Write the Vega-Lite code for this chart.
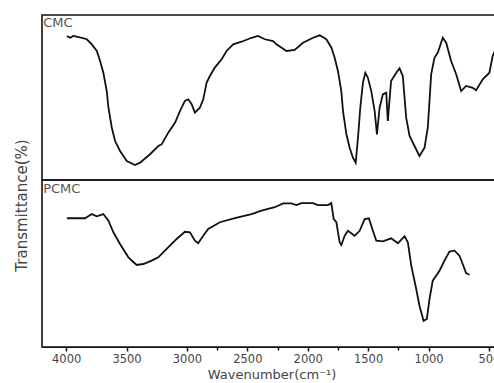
{
  "$schema": "https://vega.github.io/schema/vega-lite/v6.json",
  "background": "white",
  "padding": {"left": 13, "top": 14, "right": 0, "bottom": 0},
  "spacing": 0,
  "bounds": "flush",
  "config": {
    "font": "DejaVu Sans",
    "view": {"stroke": "#111", "strokeWidth": 1.6},
    "axis": {
      "labelFont": "DejaVu Sans",
      "labelFontSize": 11.5,
      "labelColor": "#444",
      "titleFont": "DejaVu Sans",
      "titleFontSize": 13,
      "titleFontWeight": "normal",
      "titleColor": "#444",
      "domainColor": "#111",
      "tickColor": "#111",
      "grid": false
    }
  },
  "datasets": {
    "spectra": [
      {"sample": "CMC", "wavenumber": 3994, "transmittance": 87.3},
      {"sample": "CMC", "wavenumber": 3967, "transmittance": 86.2},
      {"sample": "CMC", "wavenumber": 3940, "transmittance": 87.3},
      {"sample": "CMC", "wavenumber": 3870, "transmittance": 86.2},
      {"sample": "CMC", "wavenumber": 3829, "transmittance": 85.3},
      {"sample": "CMC", "wavenumber": 3788, "transmittance": 82.2},
      {"sample": "CMC", "wavenumber": 3746, "transmittance": 78.2},
      {"sample": "CMC", "wavenumber": 3719, "transmittance": 72.1},
      {"sample": "CMC", "wavenumber": 3692, "transmittance": 65.0},
      {"sample": "CMC", "wavenumber": 3664, "transmittance": 53.9},
      {"sample": "CMC", "wavenumber": 3650, "transmittance": 43.8},
      {"sample": "CMC", "wavenumber": 3622, "transmittance": 31.7},
      {"sample": "CMC", "wavenumber": 3595, "transmittance": 23.6},
      {"sample": "CMC", "wavenumber": 3554, "transmittance": 17.6},
      {"sample": "CMC", "wavenumber": 3498, "transmittance": 11.5},
      {"sample": "CMC", "wavenumber": 3430, "transmittance": 9.1},
      {"sample": "CMC", "wavenumber": 3388, "transmittance": 10.5},
      {"sample": "CMC", "wavenumber": 3306, "transmittance": 15.6},
      {"sample": "CMC", "wavenumber": 3237, "transmittance": 20.6},
      {"sample": "CMC", "wavenumber": 3209, "transmittance": 21.6},
      {"sample": "CMC", "wavenumber": 3155, "transmittance": 28.7},
      {"sample": "CMC", "wavenumber": 3099, "transmittance": 34.7},
      {"sample": "CMC", "wavenumber": 3058, "transmittance": 41.8},
      {"sample": "CMC", "wavenumber": 3017, "transmittance": 47.9},
      {"sample": "CMC", "wavenumber": 2989, "transmittance": 48.9},
      {"sample": "CMC", "wavenumber": 2961, "transmittance": 45.9},
      {"sample": "CMC", "wavenumber": 2934, "transmittance": 40.8},
      {"sample": "CMC", "wavenumber": 2893, "transmittance": 43.8},
      {"sample": "CMC", "wavenumber": 2865, "transmittance": 48.9},
      {"sample": "CMC", "wavenumber": 2837, "transmittance": 59.0},
      {"sample": "CMC", "wavenumber": 2810, "transmittance": 63.0},
      {"sample": "CMC", "wavenumber": 2769, "transmittance": 68.1},
      {"sample": "CMC", "wavenumber": 2713, "transmittance": 73.2},
      {"sample": "CMC", "wavenumber": 2672, "transmittance": 78.2},
      {"sample": "CMC", "wavenumber": 2617, "transmittance": 82.2},
      {"sample": "CMC", "wavenumber": 2548, "transmittance": 83.8},
      {"sample": "CMC", "wavenumber": 2465, "transmittance": 86.2},
      {"sample": "CMC", "wavenumber": 2411, "transmittance": 87.3},
      {"sample": "CMC", "wavenumber": 2355, "transmittance": 85.3},
      {"sample": "CMC", "wavenumber": 2287, "transmittance": 84.2},
      {"sample": "CMC", "wavenumber": 2259, "transmittance": 82.2},
      {"sample": "CMC", "wavenumber": 2176, "transmittance": 78.2},
      {"sample": "CMC", "wavenumber": 2108, "transmittance": 78.8},
      {"sample": "CMC", "wavenumber": 2039, "transmittance": 83.2},
      {"sample": "CMC", "wavenumber": 1956, "transmittance": 86.2},
      {"sample": "CMC", "wavenumber": 1901, "transmittance": 87.7},
      {"sample": "CMC", "wavenumber": 1846, "transmittance": 85.3},
      {"sample": "CMC", "wavenumber": 1804, "transmittance": 80.2},
      {"sample": "CMC", "wavenumber": 1777, "transmittance": 74.1},
      {"sample": "CMC", "wavenumber": 1750, "transmittance": 66.1},
      {"sample": "CMC", "wavenumber": 1722, "transmittance": 53.9},
      {"sample": "CMC", "wavenumber": 1708, "transmittance": 41.8},
      {"sample": "CMC", "wavenumber": 1680, "transmittance": 27.7},
      {"sample": "CMC", "wavenumber": 1653, "transmittance": 19.6},
      {"sample": "CMC", "wavenumber": 1626, "transmittance": 13.5},
      {"sample": "CMC", "wavenumber": 1603, "transmittance": 10.5},
      {"sample": "CMC", "wavenumber": 1584, "transmittance": 25.6},
      {"sample": "CMC", "wavenumber": 1565, "transmittance": 43.8},
      {"sample": "CMC", "wavenumber": 1543, "transmittance": 59.0},
      {"sample": "CMC", "wavenumber": 1523, "transmittance": 65.0},
      {"sample": "CMC", "wavenumber": 1502, "transmittance": 62.0},
      {"sample": "CMC", "wavenumber": 1474, "transmittance": 53.9},
      {"sample": "CMC", "wavenumber": 1446, "transmittance": 41.8},
      {"sample": "CMC", "wavenumber": 1427, "transmittance": 27.7},
      {"sample": "CMC", "wavenumber": 1405, "transmittance": 43.8},
      {"sample": "CMC", "wavenumber": 1378, "transmittance": 51.9},
      {"sample": "CMC", "wavenumber": 1350, "transmittance": 52.9},
      {"sample": "CMC", "wavenumber": 1337, "transmittance": 35.8},
      {"sample": "CMC", "wavenumber": 1310, "transmittance": 60.0},
      {"sample": "CMC", "wavenumber": 1267, "transmittance": 65.0},
      {"sample": "CMC", "wavenumber": 1240, "transmittance": 67.7},
      {"sample": "CMC", "wavenumber": 1213, "transmittance": 63.0},
      {"sample": "CMC", "wavenumber": 1185, "transmittance": 37.8},
      {"sample": "CMC", "wavenumber": 1157, "transmittance": 26.7},
      {"sample": "CMC", "wavenumber": 1116, "transmittance": 20.6},
      {"sample": "CMC", "wavenumber": 1075, "transmittance": 14.5},
      {"sample": "CMC", "wavenumber": 1033, "transmittance": 19.6},
      {"sample": "CMC", "wavenumber": 1006, "transmittance": 31.7},
      {"sample": "CMC", "wavenumber": 978, "transmittance": 64.1},
      {"sample": "CMC", "wavenumber": 951, "transmittance": 74.1},
      {"sample": "CMC", "wavenumber": 923, "transmittance": 77.2},
      {"sample": "CMC", "wavenumber": 882, "transmittance": 86.2},
      {"sample": "CMC", "wavenumber": 854, "transmittance": 83.2},
      {"sample": "CMC", "wavenumber": 813, "transmittance": 72.1},
      {"sample": "CMC", "wavenumber": 771, "transmittance": 64.1},
      {"sample": "CMC", "wavenumber": 730, "transmittance": 53.9},
      {"sample": "CMC", "wavenumber": 689, "transmittance": 57.0},
      {"sample": "CMC", "wavenumber": 634, "transmittance": 55.9},
      {"sample": "CMC", "wavenumber": 606, "transmittance": 54.4},
      {"sample": "CMC", "wavenumber": 551, "transmittance": 61.0},
      {"sample": "CMC", "wavenumber": 496, "transmittance": 65.0},
      {"sample": "CMC", "wavenumber": 469, "transmittance": 75.2},
      {"sample": "CMC", "wavenumber": 430, "transmittance": 82.0},
      {"sample": "PCMC", "wavenumber": 3994, "transmittance": 77.1},
      {"sample": "PCMC", "wavenumber": 3843, "transmittance": 77.1},
      {"sample": "PCMC", "wavenumber": 3788, "transmittance": 79.6},
      {"sample": "PCMC", "wavenumber": 3746, "transmittance": 78.3},
      {"sample": "PCMC", "wavenumber": 3692, "transmittance": 79.6},
      {"sample": "PCMC", "wavenumber": 3650, "transmittance": 75.6},
      {"sample": "PCMC", "wavenumber": 3609, "transmittance": 68.7},
      {"sample": "PCMC", "wavenumber": 3554, "transmittance": 61.7},
      {"sample": "PCMC", "wavenumber": 3485, "transmittance": 53.7},
      {"sample": "PCMC", "wavenumber": 3416, "transmittance": 49.1},
      {"sample": "PCMC", "wavenumber": 3361, "transmittance": 49.7},
      {"sample": "PCMC", "wavenumber": 3292, "transmittance": 51.7},
      {"sample": "PCMC", "wavenumber": 3237, "transmittance": 53.7},
      {"sample": "PCMC", "wavenumber": 3168, "transmittance": 58.7},
      {"sample": "PCMC", "wavenumber": 3085, "transmittance": 64.7},
      {"sample": "PCMC", "wavenumber": 3017, "transmittance": 69.0},
      {"sample": "PCMC", "wavenumber": 2975, "transmittance": 68.7},
      {"sample": "PCMC", "wavenumber": 2934, "transmittance": 63.7},
      {"sample": "PCMC", "wavenumber": 2907, "transmittance": 62.1},
      {"sample": "PCMC", "wavenumber": 2865, "transmittance": 66.6},
      {"sample": "PCMC", "wavenumber": 2824, "transmittance": 70.7},
      {"sample": "PCMC", "wavenumber": 2727, "transmittance": 74.7},
      {"sample": "PCMC", "wavenumber": 2603, "transmittance": 77.1},
      {"sample": "PCMC", "wavenumber": 2465, "transmittance": 79.6},
      {"sample": "PCMC", "wavenumber": 2383, "transmittance": 81.6},
      {"sample": "PCMC", "wavenumber": 2273, "transmittance": 83.7},
      {"sample": "PCMC", "wavenumber": 2204, "transmittance": 86.0},
      {"sample": "PCMC", "wavenumber": 2135, "transmittance": 86.0},
      {"sample": "PCMC", "wavenumber": 2094, "transmittance": 85.0},
      {"sample": "PCMC", "wavenumber": 2052, "transmittance": 86.2},
      {"sample": "PCMC", "wavenumber": 1956, "transmittance": 86.2},
      {"sample": "PCMC", "wavenumber": 1915, "transmittance": 85.0},
      {"sample": "PCMC", "wavenumber": 1832, "transmittance": 85.0},
      {"sample": "PCMC", "wavenumber": 1805, "transmittance": 86.2},
      {"sample": "PCMC", "wavenumber": 1785, "transmittance": 76.6},
      {"sample": "PCMC", "wavenumber": 1763, "transmittance": 74.7},
      {"sample": "PCMC", "wavenumber": 1736, "transmittance": 62.7},
      {"sample": "PCMC", "wavenumber": 1722, "transmittance": 61.1},
      {"sample": "PCMC", "wavenumber": 1694, "transmittance": 66.6},
      {"sample": "PCMC", "wavenumber": 1667, "transmittance": 69.6},
      {"sample": "PCMC", "wavenumber": 1612, "transmittance": 66.6},
      {"sample": "PCMC", "wavenumber": 1570, "transmittance": 69.6},
      {"sample": "PCMC", "wavenumber": 1529, "transmittance": 76.6},
      {"sample": "PCMC", "wavenumber": 1494, "transmittance": 77.1},
      {"sample": "PCMC", "wavenumber": 1474, "transmittance": 72.6},
      {"sample": "PCMC", "wavenumber": 1433, "transmittance": 63.7},
      {"sample": "PCMC", "wavenumber": 1378, "transmittance": 63.3},
      {"sample": "PCMC", "wavenumber": 1309, "transmittance": 65.1},
      {"sample": "PCMC", "wavenumber": 1254, "transmittance": 62.1},
      {"sample": "PCMC", "wavenumber": 1199, "transmittance": 66.3},
      {"sample": "PCMC", "wavenumber": 1171, "transmittance": 62.7},
      {"sample": "PCMC", "wavenumber": 1143, "transmittance": 48.7},
      {"sample": "PCMC", "wavenumber": 1102, "transmittance": 34.7},
      {"sample": "PCMC", "wavenumber": 1075, "transmittance": 24.7},
      {"sample": "PCMC", "wavenumber": 1041, "transmittance": 15.7},
      {"sample": "PCMC", "wavenumber": 1014, "transmittance": 16.8},
      {"sample": "PCMC", "wavenumber": 992, "transmittance": 28.7},
      {"sample": "PCMC", "wavenumber": 965, "transmittance": 39.7},
      {"sample": "PCMC", "wavenumber": 909, "transmittance": 45.7},
      {"sample": "PCMC", "wavenumber": 868, "transmittance": 51.7},
      {"sample": "PCMC", "wavenumber": 827, "transmittance": 57.1},
      {"sample": "PCMC", "wavenumber": 785, "transmittance": 57.7},
      {"sample": "PCMC", "wavenumber": 744, "transmittance": 54.7},
      {"sample": "PCMC", "wavenumber": 717, "transmittance": 49.7},
      {"sample": "PCMC", "wavenumber": 689, "transmittance": 44.3},
      {"sample": "PCMC", "wavenumber": 661, "transmittance": 43.3}
    ]
  },
  "vconcat": [
    {
      "width": 459,
      "height": 165,
      "layer": [
        {
          "data": {"name": "spectra"},
          "transform": [{"filter": "datum.sample === 'CMC'"}],
          "mark": {"type": "line", "color": "#111", "strokeWidth": 1.8, "interpolate": "linear"},
          "encoding": {
            "x": {"field": "wavenumber", "type": "quantitative", "scale": {"domain": [4200, 400], "nice": false, "zero": false}, "axis": null},
            "y": {
              "field": "transmittance", "type": "quantitative",
              "scale": {"domain": [0, 100], "nice": false, "zero": false},
              "axis": {"title": "Transmittance(%)", "labels": false, "ticks": false, "domain": false, "titleX": -21, "titleY": 190, "titleBaseline": "middle", "titleAngle": -90, "titleFontSize": 15}
            }
          }
        },
        {
          "data": {"values": [{"sample": "CMC"}]},
          "mark": {"type": "text", "align": "left", "baseline": "top", "fontSize": 13, "color": "#555", "font": "DejaVu Sans"},
          "encoding": {
            "text": {"field": "sample"},
            "x": {"datum": 4190, "type": "quantitative"},
            "y": {"datum": 99, "type": "quantitative"}
          }
        }
      ]
    },
    {
      "width": 459,
      "height": 167,
      "layer": [
        {
          "data": {"name": "spectra"},
          "transform": [{"filter": "datum.sample === 'PCMC'"}],
          "mark": {"type": "line", "color": "#111", "strokeWidth": 1.8, "interpolate": "linear"},
          "encoding": {
            "x": {
              "field": "wavenumber", "type": "quantitative",
              "scale": {"domain": [4200, 400], "nice": false, "zero": false},
              "axis": {
                "title": "Wavenumber(cm⁻¹)",
                "values": [4000, 3500, 3000, 2750, 2500, 2250, 2000, 1750, 1500, 1250, 1000, 500],
                "labelExpr": "datum.value % 500 === 0 ? datum.label : ''",
                "format": "d",
                "tickSize": {"condition": {"test": "datum.value % 500 === 0", "value": 4}, "value": 3},
                "tickWidth": 1.5,
                "labelPadding": 2,
                "titlePadding": 4
              }
            },
            "y": {"field": "transmittance", "type": "quantitative", "scale": {"domain": [0, 100], "nice": false, "zero": false}, "axis": null}
          }
        },
        {
          "data": {"values": [{"sample": "PCMC"}]},
          "mark": {"type": "text", "align": "left", "baseline": "top", "fontSize": 13, "color": "#555", "font": "DejaVu Sans"},
          "encoding": {
            "text": {"field": "sample"},
            "x": {"datum": 4190, "type": "quantitative"},
            "y": {"datum": 98, "type": "quantitative"}
          }
        }
      ]
    }
  ]
}
